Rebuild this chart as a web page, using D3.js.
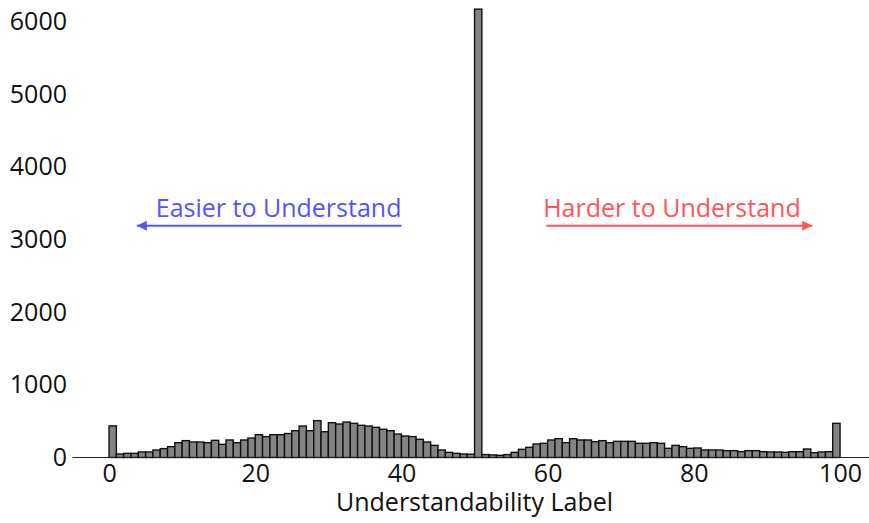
<!DOCTYPE html>
<html>
<head>
<meta charset="utf-8">
<script src="https://cdn.jsdelivr.net/npm/d3@7"></script>
<style>
  body { margin: 0; background: #fff; }
  svg text { font-family: "Open Sans", "Noto Sans", sans-serif; }
</style>
</head>
<body>
<svg id="chart" width="869" height="523"></svg>
<script>
// histogram counts, one bin per label value (bin k covers [k, k+1))
var binStarts = d3.range(100);
var counts = [435, 48, 57, 57, 76, 76, 103, 122, 149, 204,
  232, 213, 213, 204, 236, 181, 241, 204, 241, 268,
  314, 287, 314, 314, 330, 369, 433, 369, 507, 355,
  479, 461, 488, 470, 443, 433, 415, 388, 369, 323,
  296, 287, 250, 213, 167, 103, 71, 57, 48, 45,
  6170, 40, 35, 30, 40, 71, 112, 140, 186, 195,
  241, 259, 204, 259, 241, 241, 218, 232, 204, 222,
  222, 222, 195, 195, 204, 195, 126, 167, 149, 126,
  131, 103, 103, 103, 94, 94, 80, 94, 94, 80,
  76, 76, 71, 80, 80, 117, 66, 76, 80, 470];

var xTicks = [0, 20, 40, 60, 80, 100];
var yTicks = [0, 1000, 2000, 3000, 4000, 5000, 6000];

// annotations: label, arrow start, arrow end (data units)
var easyNote = { text: 'Easier to Understand', from: 40, to: 3.8, y: 3190, color: '#5555ff' };
var hardNote = { text: 'Harder to Understand', from: 59.8, to: 96.2, y: 3190, color: '#ff5555' };

var svg = d3.select('#chart');

var x = d3.scaleLinear().domain([-5, 105]).range([72.5, 876.6]);
var y = d3.scaleLinear().domain([0, 6000]).range([457.5, 21.5]);

// bars
svg.append('g').attr('class', 'bars')
  .selectAll('rect')
  .data(binStarts)
  .enter().append('rect')
    .attr('x', function(d){ return x(d); })
    .attr('width', function(d){ return x(d + 1) - x(d); })
    .attr('y', function(d, i){ return y(counts[i]); })
    .attr('height', function(d, i){ return y(0) - y(counts[i]); })
    .attr('fill', '#838383')
    .attr('stroke', '#111')
    .attr('stroke-width', 1.4);

// axes
var xAxis = svg.append('g')
  .attr('transform', 'translate(0,' + y(0) + ')')
  .call(d3.axisBottom(x).tickValues(xTicks).tickSize(0).tickPadding(7));
xAxis.select('.domain').attr('d', 'M72.5,0H869').attr('stroke', '#222').attr('stroke-width', 1.1);
xAxis.selectAll('text').attr('font-size', 25).attr('fill', '#111');

var yAxis = svg.append('g')
  .attr('transform', 'translate(72.5,0)')
  .call(d3.axisLeft(y).tickValues(yTicks).tickSize(0).tickPadding(5.5).tickFormat(d3.format('d')));
yAxis.select('.domain').remove();
yAxis.selectAll('text').attr('font-size', 25).attr('fill', '#111');

svg.append('text')
  .attr('x', x(50))
  .attr('y', 511)
  .attr('text-anchor', 'middle')
  .attr('font-size', 25)
  .attr('fill', '#111')
  .text('Understandability Label');

// arrow heads
var defs = svg.append('defs');
[easyNote, hardNote].forEach(function(n, i){
  defs.append('marker')
    .attr('id', 'head' + i)
    .attr('viewBox', '0 0 10 10')
    .attr('refX', 10).attr('refY', 5)
    .attr('markerWidth', 5).attr('markerHeight', 5)
    .attr('orient', 'auto')
    .attr('markerUnits', 'strokeWidth')
    .append('path')
      .attr('d', 'M0,0L10,5L0,10z')
      .attr('fill', n.color);

  svg.append('line')
    .attr('x1', x(n.from)).attr('x2', x(n.to))
    .attr('y1', y(n.y)).attr('y2', y(n.y))
    .attr('stroke', n.color)
    .attr('stroke-width', 2)
    .attr('marker-end', 'url(#head' + i + ')');

  svg.append('text')
    .attr('x', x(n.from) + (i === 0 ? 0 : -3))
    .attr('y', y(n.y) - 9)
    .attr('text-anchor', i === 0 ? 'end' : 'start')
    .attr('font-size', 25)
    .attr('fill', n.color)
    .text(n.text);
});
</script>
</body>
</html>
